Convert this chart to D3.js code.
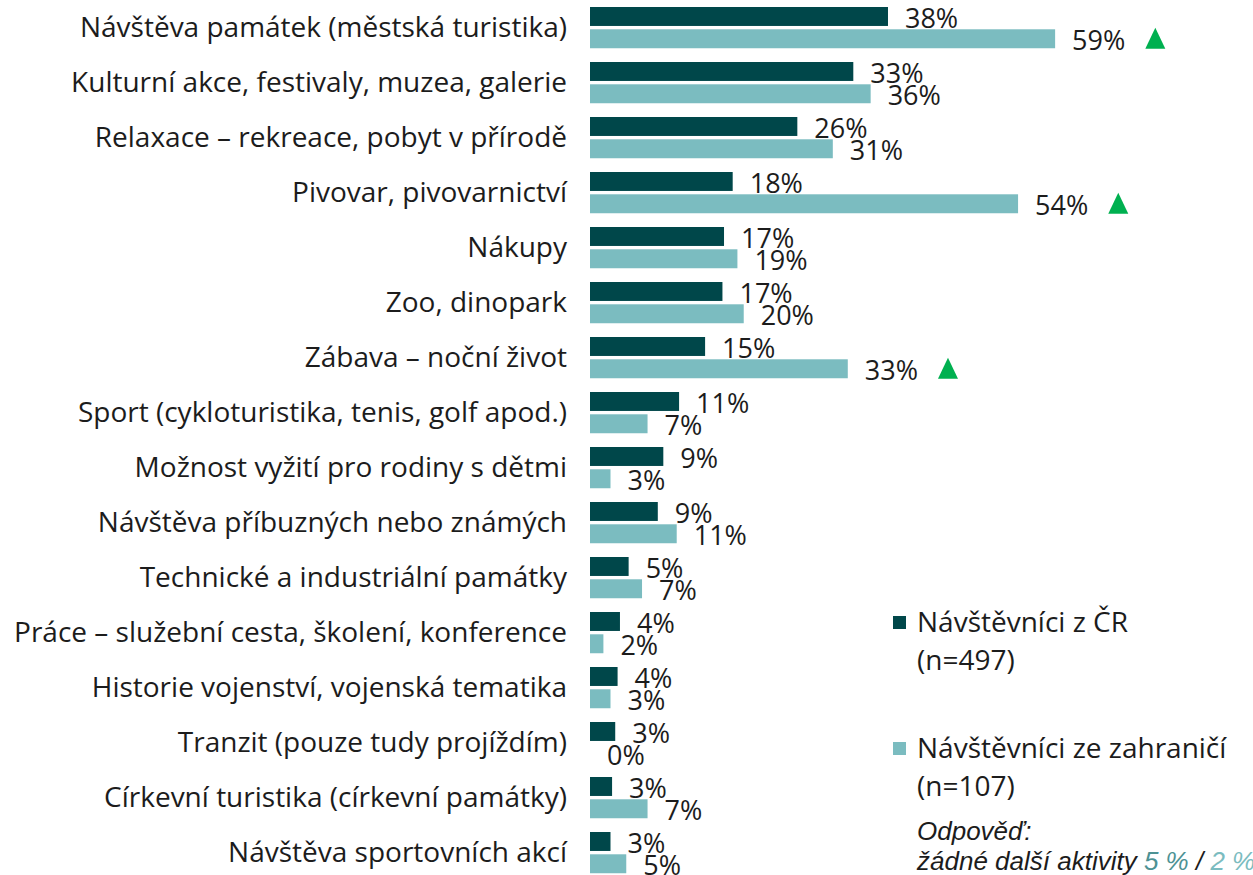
<!DOCTYPE html>
<html><head><meta charset="utf-8">
<script src="https://cdn.jsdelivr.net/npm/d3@7"></script>
<style>
html,body{margin:0;padding:0;background:#fff;overflow:hidden;}
svg{display:block;}
</style></head>
<body>
<svg id="chart" width="1253" height="875"></svg>
<script>
const categories = [
  "Návštěva památek (městská turistika)",
  "Kulturní akce, festivaly, muzea, galerie",
  "Relaxace – rekreace, pobyt v přírodě",
  "Pivovar, pivovarnictví",
  "Nákupy",
  "Zoo, dinopark",
  "Zábava – noční život",
  "Sport (cykloturistika, tenis, golf apod.)",
  "Možnost vyžití pro rodiny s dětmi",
  "Návštěva příbuzných nebo známých",
  "Technické a industriální památky",
  "Práce – služební cesta, školení, konference",
  "Historie vojenství, vojenská tematika",
  "Tranzit (pouze tudy projíždím)",
  "Církevní turistika (církevní památky)",
  "Návštěva sportovních akcí"
];
const domestic = [37.8, 33.4, 26.3, 18.1, 17.0, 16.8, 14.6, 11.3, 9.3, 8.6, 4.9, 3.8, 3.5, 3.2, 2.8, 2.6];
const foreign  = [59.0, 35.6, 30.8, 54.3, 18.7, 19.5, 32.7, 7.3, 2.6, 11.0, 6.6, 1.7, 2.6, 0.0, 7.3, 4.6];
const foreignUp = [true, false, false, true, false, false, true, false, false, false, false, false, false, false, false, false];
const seriesKeys = ["cz", "zahr"];
const seriesNames = ["Návštěvníci z ČR", "Návštěvníci ze zahraničí"];
const seriesN = ["(n=497)", "(n=107)"];
const noteTitle = "Odpověď:";
const noteText = "žádné další aktivity ";
const noteValues = ["5 %", "2 %"];

const colors = {cz: "#00474a", zahr: "#7bbcc0"};
const textColor = "#1c1c1c";
const font = "'Open Sans', 'DejaVu Sans', sans-serif";

const svg = d3.select("#chart");
const x = d3.scaleLinear().domain([0, 60]).range([590, 1063]);
const y = d3.scaleBand().domain(categories).range([0.125, 880.125]).paddingInner(0.25).paddingOuter(0.125);
const ySub = d3.scaleBand().domain(seriesKeys).range([0, y.bandwidth()]).paddingInner(0.15);

const rows = categories.map((c, i) => ({cat: c, cz: domestic[i], zahr: foreign[i], up: foreignUp[i]}));

// category labels
svg.append("g").selectAll("text").data(rows).join("text")
  .attr("x", 567)
  .attr("y", d => y(d.cat) + y.bandwidth() / 2)
  .attr("dy", "0.35em")
  .attr("text-anchor", "end")
  .attr("font-family", font)
  .attr("font-size", 28)
  .attr("fill", textColor)
  .text(d => d.cat);

const groups = svg.append("g").selectAll("g").data(rows).join("g")
  .attr("transform", d => `translate(0,${y(d.cat)})`);

seriesKeys.forEach(k => {
  groups.append("rect")
    .attr("x", x(0))
    .attr("y", ySub(k))
    .attr("width", d => x(d[k]) - x(0))
    .attr("height", ySub.bandwidth())
    .attr("fill", colors[k]);
});

seriesKeys.forEach(k => {
  groups.append("text")
    .attr("class", "val-" + k)
    .attr("x", d => x(d[k]) + 17)
    .attr("y", ySub(k) + ySub.bandwidth() / 2 + 2)
    .attr("dy", "0.35em")
    .attr("font-family", font)
    .attr("font-size", 27)
    .attr("fill", textColor)
    .text(d => Math.round(d[k]) + "%");
});

// significance triangles
groups.filter(d => d.up).each(function(d) {
  const g = d3.select(this);
  const t = g.select("text.val-zahr").node();
  const endX = x(d.zahr) + 17 + t.getComputedTextLength() + 20;
  const cy = ySub("zahr") + ySub.bandwidth() / 2;
  g.append("path")
    .attr("d", `M${endX},${cy + 10} L${endX + 10},${cy - 11} L${endX + 20},${cy + 10} Z`)
    .attr("fill", "#00b050");
});

// legend
const legend = svg.append("g");
const legY = [622, 748];
seriesKeys.forEach((k, i) => {
  legend.append("rect").attr("x", 893).attr("y", legY[i] - 6).attr("width", 13).attr("height", 13).attr("fill", colors[k]);
  legend.append("text").attr("x", 917).attr("y", legY[i]).attr("dy", "0.35em")
    .attr("font-family", font).attr("font-size", 28).attr("fill", textColor).text(seriesNames[i]);
  legend.append("text").attr("x", 917).attr("y", legY[i] + 38).attr("dy", "0.35em")
    .attr("font-family", font).attr("font-size", 28).attr("fill", textColor).text(seriesN[i]);
});

const noteFont = "'Liberation Sans', Arial, sans-serif";
legend.append("text").attr("x", 917).attr("y", 840)
  .attr("font-family", noteFont).attr("font-style", "italic").attr("font-size", 26).attr("fill", textColor)
  .text(noteTitle);
const nt = legend.append("text").attr("x", 917).attr("y", 870)
  .attr("font-family", noteFont).attr("font-style", "italic").attr("font-size", 26).attr("fill", textColor);
nt.append("tspan").text(noteText);
nt.append("tspan").attr("fill", "#4d9294").text(noteValues[0]);
nt.append("tspan").text(" / ");
nt.append("tspan").attr("fill", "#7bbcc0").text(noteValues[1]);
</script>
</body></html>
